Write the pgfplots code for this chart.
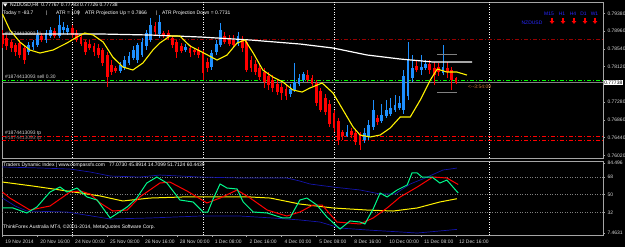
\documentclass[border=0pt]{standalone}
\usepackage{pgfplots}
\pgfplotsset{compat=1.18}
\usepackage{pgfplotstable}
\usepackage{fontspec}
\setmainfont{Liberation Sans}
\usetikzlibrary{arrows.meta}
\definecolor{bull}{RGB}{30,144,255}
\definecolor{bear}{RGB}{255,0,0}
\definecolor{tgreen}{RGB}{0,250,140}
\definecolor{tblue}{RGB}{20,20,170}
\definecolor{lbl}{RGB}{215,215,215}
\definecolor{frame}{RGB}{165,165,165}
\definecolor{slred}{RGB}{150,0,0}
\definecolor{tcolor}{RGB}{205,120,50}
\definecolor{mtblue}{RGB}{40,40,255}
\newcommand\fs{\fontsize{5}{6}\selectfont}

\pgfplotstableread{
i o h l c
0 0.78891 0.78985 0.78559 0.78654
1 0.78796 0.78867 0.78512 0.78607
2 0.78701 0.78749 0.78465 0.78559
3 0.78630 0.78678 0.78370 0.78465
4 0.78678 0.78749 0.78323 0.78394
5 0.78559 0.78607 0.78181 0.78275
9 0.78843 0.78914 0.78701 0.78749
12 0.78962 0.79033 0.78796 0.78843
16 0.79033 0.79104 0.78796 0.78867
17 0.78914 0.78985 0.78701 0.78749
18 0.78820 0.78891 0.78607 0.78654
19 0.78701 0.78749 0.78394 0.78465
20 0.78654 0.78749 0.78512 0.78559
21 0.78607 0.78678 0.78370 0.78465
22 0.78559 0.78654 0.78323 0.78394
23 0.78512 0.78559 0.78133 0.78204
24 0.78394 0.78465 0.77637 0.77873
25 0.78157 0.78275 0.77920 0.77991
26 0.78086 0.78133 0.77968 0.78015
35 0.79080 0.79174 0.78843 0.78938
37 0.78914 0.78962 0.78796 0.78843
38 0.78914 0.78985 0.78749 0.78820
39 0.78796 0.78843 0.78559 0.78630
40 0.78701 0.78749 0.78323 0.78465
41 0.78607 0.78678 0.78441 0.78488
43 0.78559 0.78630 0.78346 0.78441
44 0.78512 0.78559 0.78394 0.78465
45 0.78512 0.78583 0.78323 0.78394
46 0.78441 0.78512 0.77802 0.77968
47 0.78228 0.78323 0.77991 0.78086
51 0.78843 0.78938 0.78654 0.78701
52 0.78796 0.78867 0.78607 0.78654
53 0.78749 0.78867 0.78583 0.78630
55 0.78749 0.78843 0.78465 0.78559
56 0.78701 0.78749 0.77991 0.78039
57 0.78275 0.78370 0.77991 0.78086
58 0.78181 0.78275 0.77920 0.77991
59 0.78086 0.78157 0.77802 0.77873
60 0.77991 0.78086 0.77613 0.77755
61 0.77897 0.77991 0.77566 0.77684
62 0.77802 0.77920 0.77518 0.77613
63 0.77708 0.77802 0.77447 0.77518
64 0.77637 0.77731 0.77329 0.77495
65 0.77589 0.77684 0.77329 0.77424
70 0.77920 0.78039 0.77755 0.77802
71 0.77850 0.77920 0.77660 0.77708
72 0.77731 0.77802 0.77187 0.77258
73 0.77542 0.77613 0.77045 0.77092
74 0.77376 0.77471 0.76974 0.77045
75 0.77234 0.77329 0.76690 0.76761
76 0.77021 0.77092 0.76572 0.76666
77 0.76832 0.76903 0.76264 0.76383
78 0.76572 0.76619 0.76383 0.76477
80 0.76595 0.76666 0.76430 0.76501
81 0.76548 0.76619 0.76264 0.76335
82 0.76501 0.76572 0.76146 0.76264
86 0.76903 0.76974 0.76737 0.76808
95 0.78133 0.78275 0.77991 0.78039
98 0.78181 0.78275 0.77944 0.78039
99 0.78086 0.78228 0.77684 0.77920
100 0.78110 0.78204 0.77897 0.77991
102 0.78086 0.78228 0.77850 0.77991
103 0.78039 0.78110 0.77566 0.77802
104 0.77850 0.77873 0.77700 0.77738
}\bearc

\pgfplotstableread{
i o h l c
6 0.78465 0.78701 0.78394 0.78630
7 0.78583 0.78749 0.78512 0.78701
8 0.78630 0.78985 0.78583 0.78867
10 0.78749 0.78985 0.78678 0.78914
11 0.78843 0.79056 0.78796 0.78985
13 0.78843 0.79340 0.78796 0.79104
14 0.78985 0.79174 0.78891 0.79056
15 0.78938 0.79104 0.78867 0.79033
27 0.78015 0.78228 0.77968 0.78157
28 0.78086 0.78370 0.78039 0.78275
29 0.78204 0.78465 0.78157 0.78370
30 0.78323 0.78607 0.78275 0.78512
31 0.78275 0.78678 0.78204 0.78630
32 0.78394 0.78796 0.78346 0.78701
33 0.78607 0.78985 0.78512 0.78914
34 0.78749 0.79269 0.78701 0.79104
36 0.78891 0.79340 0.78796 0.79174
42 0.78512 0.78654 0.78465 0.78583
48 0.78110 0.78512 0.78039 0.78441
49 0.78465 0.78749 0.78394 0.78654
50 0.78630 0.79151 0.78583 0.78985
54 0.78654 0.78938 0.78607 0.78843
66 0.77471 0.77708 0.77400 0.77589
67 0.77566 0.78204 0.77518 0.77755
68 0.77708 0.77944 0.77660 0.77850
69 0.77802 0.77991 0.77755 0.77944
79 0.76477 0.76737 0.76454 0.76572
83 0.76383 0.76666 0.76312 0.76548
84 0.76454 0.76856 0.76383 0.76737
85 0.76690 0.77329 0.76619 0.77092
87 0.76832 0.77234 0.76785 0.76974
88 0.76950 0.77329 0.76903 0.77092
89 0.76998 0.77376 0.76950 0.77140
90 0.77092 0.77447 0.77045 0.77211
91 0.77140 0.77424 0.77092 0.77258
92 0.77092 0.78039 0.76998 0.77897
93 0.77424 0.78701 0.77329 0.78275
94 0.77850 0.78394 0.77755 0.78086
96 0.78039 0.78394 0.77920 0.78110
97 0.78086 0.78275 0.78039 0.78181
101 0.77968 0.78630 0.77920 0.78110
}\bullc

\pgfplotsset{
  mt/.style={
    scale only axis, anchor=south west, width=601bp,
    xmin=-0.1, xmax=137.7,
    axis line style={draw=frame, line width=0.6bp},
    ytick pos=right, yticklabel pos=right, ytick align=outside,
    xtick pos=bottom, xtick align=outside,
    major tick length=2bp,
    tick style={draw=frame, line width=0.5bp},
    ticklabel style={font=\fs, text=lbl},
    yticklabel style={anchor=west, xshift=-1bp},
    scaled y ticks=false,
    extra x ticks={16,46,76,111.6},
    extra x tick labels={},
    extra x tick style={grid=major, major tick length=0pt},
    major grid style={draw=white, line width=0.6bp, dash pattern=on 1bp off 1.5bp},
  },
  wick/.style={draw=none, mark=none, forget plot,
    error bars/.cd, y dir=both, y explicit, error mark=none,
    error bar style={draw=#1, line width=0.8bp}},
  body/.style={draw=none, mark=none, forget plot,
    error bars/.cd, y dir=both, y explicit, error mark=none,
    error bar style={draw=#1, line width=2.8bp}},
}

\begin{document}
\begin{tikzpicture}
\useasboundingbox (0bp,0bp) rectangle (625bp,247bp);
\fill[black] (0bp,0bp) rectangle (625bp,247bp);

% ---------------- main price panel ----------------
\begin{axis}[mt, at={(2bp,89bp)}, height=156bp,
  ymin=0.75957, ymax=0.79648, xtick=\empty,
  ytick={0.7602,0.7644,0.7686,0.7728,0.7812,0.7854,0.7896,0.7938},
  yticklabels={0.76020,0.76440,0.76860,0.77280,0.78120,0.78540,0.78960,0.79380}]

% horizontal order levels
\addplot[slred, line width=0.9bp, dash pattern=on 4bp off 2bp on 1bp off 2bp] coordinates {(-0.1,0.78760) (137.7,0.78760)};
\addplot[green, line width=1bp, dash pattern=on 4bp off 2bp on 1bp off 2bp] coordinates {(-0.1,0.77800) (137.7,0.77800)};
\addplot[gray, line width=0.6bp] coordinates {(-0.1,0.77738) (137.7,0.77738)};
\addplot[bear, line width=0.9bp, dash pattern=on 4bp off 2bp on 1bp off 2bp] coordinates {(-0.1,0.76470) (137.7,0.76470)};
\addplot[bear, line width=0.9bp, dash pattern=on 4bp off 2bp on 1bp off 2bp] coordinates {(-0.1,0.76375) (137.7,0.76375)};

% candles
\addplot[wick=bear] table[x=i, y expr={(\thisrow{h}+\thisrow{l})/2}, y error expr={(\thisrow{h}-\thisrow{l})/2}] {\bearc};
\addplot[body=bear] table[x=i, y expr={(\thisrow{o}+\thisrow{c})/2}, y error expr={max(abs(\thisrow{o}-\thisrow{c})/2,0.00004)}] {\bearc};
\addplot[wick=bull] table[x=i, y expr={(\thisrow{h}+\thisrow{l})/2}, y error expr={(\thisrow{h}-\thisrow{l})/2}] {\bullc};
\addplot[body=bull] table[x=i, y expr={(\thisrow{o}+\thisrow{c})/2}, y error expr={max(abs(\thisrow{o}-\thisrow{c})/2,0.00004)}] {\bullc};

% range brackets
\addplot[gray, line width=0.8bp] coordinates {(99.7,0.78417) (104.2,0.78417)};
\addplot[gray, line width=0.8bp] coordinates {(99.7,0.77518) (104.2,0.77518)};

% slow moving average (white)
\addplot[white, line width=1.2bp] coordinates {
(0,0.78891) (22.4,0.78891) (33.8,0.78867) (45.3,0.78820) (56.8,0.78749)
(68.2,0.78654) (75.8,0.78559) (83.6,0.78394) (91.2,0.78299) (98.7,0.78228) (107.7,0.78228)};

% fast moving average (yellow)
\addplot[yellow, line width=1.1bp] coordinates {
(0,0.79364) (1.7,0.78985) (4.0,0.78701) (6.3,0.78512) (8.6,0.78441) (11.6,0.78512)
(14.8,0.78678) (17.1,0.78820) (18.9,0.78914) (20.8,0.78867) (23.1,0.78701) (25.3,0.78346)
(27.6,0.78110) (29.9,0.78039) (32.2,0.78204) (34.5,0.78512) (36.1,0.78678) (38.4,0.78843)
(40.7,0.78843) (43.0,0.78607) (45.3,0.78488) (49.2,0.78275) (51.5,0.78394) (53.8,0.78678)
(55.6,0.78749) (57.5,0.78441) (59.7,0.78039) (62.0,0.77873) (64.3,0.77755) (66.6,0.77566)
(68.7,0.77518) (70.5,0.77613) (73.3,0.77731) (75.8,0.77495) (78.1,0.77092) (80.4,0.76690)
(82.0,0.76501) (84.3,0.76454) (86.6,0.76501) (88.9,0.76666) (91.2,0.76927) (93.5,0.76927)
(95.8,0.77329) (98.1,0.77802) (99.7,0.78062) (101.9,0.77991) (104.2,0.77991) (106.5,0.77920)};
\end{axis}

% ---------------- Traders Dynamic Index panel ----------------
\begin{axis}[mt, at={(2bp,12bp)}, height=74bp,
  ymin=9.0, ymax=84.3,
  xtick={0,8,...,104},
  xticklabels={19 Nov 2014,20 Nov 16:00,24 Nov 00:00,25 Nov 08:00,26 Nov 16:00,28 Nov 00:00,1 Dec 08:00,2 Dec 16:00,4 Dec 00:00,5 Dec 08:00,8 Dec 16:00,10 Dec 00:00,11 Dec 08:00,12 Dec 16:00},
  xticklabel style={anchor=north west, xshift=-0.5bp},
  ytick={11,32,50,68,82.2},
  yticklabels={7.4631,32,50,68,84.496}]

\addplot[gray, line width=0.5bp, dash pattern=on 1bp off 1.5bp] coordinates {(-0.1,68) (137.7,68)};
\addplot[gray, line width=0.5bp, dash pattern=on 1bp off 1.5bp] coordinates {(-0.1,50) (137.7,50)};
\addplot[gray, line width=0.5bp, dash pattern=on 1bp off 1.5bp] coordinates {(-0.1,32) (137.7,32)};

% volatility bands
\addplot[tblue, line width=0.7bp] coordinates {
(0,78.2) (8.6,77.2) (15.5,76.1) (20.1,73.1) (24.7,69.0) (31.5,68.0) (36.1,70.0) (45.3,68.0)
(54.5,67.0) (65.2,67.0) (68.2,63.9) (70.5,60.9) (75.8,57.8) (82.0,54.8) (86.6,50.7) (90.0,50.7)
(93.5,60.9) (96.9,67.0) (101.0,75.1) (104.2,77.1)};
\addplot[tblue, line width=0.7bp] coordinates {
(0,46.6) (2.9,38.5) (5.6,33.4) (14.8,32.4) (24.7,25.3) (33.8,26.3) (45.3,28.3) (54.5,28.3)
(62.0,26.3) (68.2,24.3) (72.8,22.2) (77.4,16.1) (83.6,14.1) (91.2,12.1) (95.1,11.0) (100.3,13.1) (104.2,14.7)};
% market base line
\addplot[yellow, line width=1bp] coordinates {
(0,62.9) (7.0,58.8) (14.8,53.8) (22.4,48.7) (27.6,43.6) (33.8,46.6) (41.4,47.7) (49.2,47.7)
(56.8,47.7) (61.4,46.6) (68.2,40.5) (75.8,36.5) (83.6,34.4) (89.6,33.4) (95.1,36.5) (100.3,42.6) (104.2,45.9)};
% trade signal line
\addplot[bear, line width=1bp] coordinates {
(0,52.7) (1.7,46.6) (6.3,34.4) (10.9,38.5) (15.5,52.7) (17.8,53.8) (20.1,50.7) (22.4,41.6)
(25.3,33.4) (28.6,34.4) (31.5,47.7) (36.1,61.9) (38.4,62.9) (42.3,53.8) (46.9,41.6) (49.9,46.6)
(53.8,54.8) (56.8,46.6) (60.7,34.4) (65.2,28.3) (68.2,32.4) (71.2,39.5) (73.3,39.5) (76.7,22.2)
(82.0,20.2) (85.0,26.3) (88.2,36.5) (91.2,47.7) (95.1,57.8) (98.7,68.0) (101.9,67.0) (104.5,60.4)};
% RSI price line
\addplot[tgreen, line width=1bp] coordinates {
(0,36.5) (2.4,36.5) (5.6,31.4) (7.9,37.5) (10.9,52.7) (13.2,57.8) (14.8,52.7) (17.1,56.8)
(19.4,47.7) (21.7,44.6) (24.7,26.3) (28.6,37.5) (30.8,46.6) (33.1,61.9) (35.4,68.0) (37.7,61.9)
(40.7,44.6) (43.7,42.6) (46.0,32.4) (47.1,32.4) (48.3,45.6) (49.9,60.9) (51.5,56.8) (53.8,55.8)
(55.2,42.6) (57.5,32.4) (60.7,31.4) (64.3,26.3) (65.9,26.3) (68.2,44.6) (69.8,46.6) (72.1,39.5)
(74.4,27.3) (77.4,15.1) (79.7,23.3) (82.0,22.2) (83.1,20.2) (85.0,35.5) (86.6,51.7) (88.2,47.7)
(90.5,54.8) (92.8,59.9) (93.9,72.1) (95.1,72.1) (96.2,68.0) (98.5,68.0) (100.3,61.9) (101.9,64.9)
(103.3,57.8) (104.5,51.7)};
\end{axis}

% ---------------- texts ----------------
\begin{scope}[x=1bp,y=1bp]
\fill[white] (3,243.6) -- (7.4,243.6) -- (5.2,240.4) -- cycle;
\node[anchor=west, text=white, inner sep=0] at (10,242) {\fs NZDUSD,H4\ \ 0.77767 0.77783 0.77726 0.77738};
\node[anchor=west, text=white, inner sep=0] at (3,234) {\fs Today = -83.7};
\node[anchor=west, text=white, inner sep=0] at (46,234) {\fs |};
\node[anchor=west, text=white, inner sep=0] at (56,234) {\fs ATR = 109};
\node[anchor=west, text=white, inner sep=0] at (78,234) {\fs |};
\node[anchor=west, text=white, inner sep=0] at (85,234) {\fs ATR Projection Up = 0.7866};
\node[anchor=west, text=white, inner sep=0] at (156,234) {\fs |};
\node[anchor=west, text=white, inner sep=0] at (162,234) {\fs ATR Projection Down = 0.7731};

\node[anchor=west, text=lbl, inner sep=0] at (5,213) {\fs \#1874413093 sl};
\node[anchor=west, text=lbl, inner sep=0] at (5,170.5) {\fs \#1874413093 sell 0.30};
\node[anchor=west, text=lbl, inner sep=0] at (5,114) {\fs \#1874413093 tp};
\node[anchor=west, text=gray, inner sep=0] at (5,108.7) {\fs \#1874413093 tp};

\node[text=mtblue, inner sep=0] at (549,233) {\fs M15};
\node[text=mtblue, inner sep=0] at (562,233) {\fs H1};
\node[text=mtblue, inner sep=0] at (573,233) {\fs H4};
\node[text=mtblue, inner sep=0] at (583.5,233) {\fs D1};
\node[text=mtblue, inner sep=0] at (594.5,233) {\fs W1};
\node[text=mtblue, inner sep=0] at (532,224.3) {\fs NZDUSD};
\foreach \ax in {552,563,574,585,595}
  \draw[red, line width=1.3bp, -{Triangle[length=2.6bp,width=4.4bp]}] (\ax,229) -- (\ax,223.2);

\node[anchor=west, text=tcolor, inner sep=0] at (468,160) {\fs <-{}-3:54:09};
\node[anchor=west, fill=white, text=black, inner sep=0.6bp] at (603.5,164.3) {\fs 0.77738};

\node[anchor=west, text=white, inner sep=0] at (3,82) {\fs Traders Dynamic Index | www.compassfx.com\ \ \ 77.0730 45.8914 14.7099 51.7124 60.4439};
\node[anchor=west, text=white, inner sep=0] at (3,20) {\fs ThinkForex Australia MT4, \textcopyright2001-2014, MetaQuotes Software Corp.};
\end{scope}
\end{tikzpicture}
\end{document}
